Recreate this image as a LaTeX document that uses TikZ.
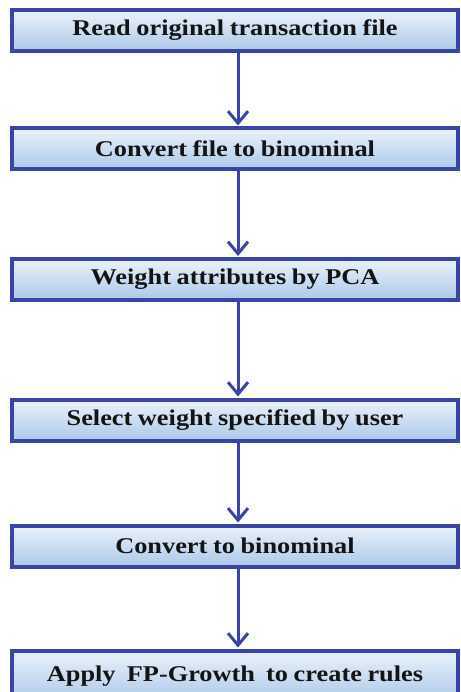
\documentclass[tikz,border=0pt]{standalone}
\usepackage{fontspec}
\setmainfont{Liberation Serif}
\newfontfamily\stepfont[FakeStretch=1.17, WordSpace=0.85]{Liberation Serif}
\usetikzlibrary{arrows.meta,shadows}
\definecolor{frameblue}{HTML}{3A44A6}
\definecolor{filltop}{HTML}{EAF2FB}
\definecolor{fillbot}{HTML}{ACC8E8}
\tikzset{
  stepbox/.style={draw=frameblue, line width=4pt, top color=filltop, bottom color=fillbot,
    minimum width=446pt, minimum height=41pt, inner sep=0pt,
    font=\stepfont\fontsize{22.5}{24}\selectfont\bfseries, text=black!92,
    drop shadow={shadow xshift=-1pt, shadow yshift=-2pt, opacity=0.18, fill=black}},
  flow/.style={draw=frameblue, line width=3pt,
    -{Straight Barb[length=12pt, width=20pt, line width=3pt]}, shorten >=1pt}
}
\begin{document}
\begin{tikzpicture}[x=1pt, y=1pt]
  \useasboundingbox (0,0) rectangle (460,-692);
  \clip (0,0) rectangle (460,-692);
  \node[stepbox] (b1) at (235,-30.5) {Read original transaction file};
  \node[stepbox] (b2) at (235,-149)  {Convert file to binominal};
  \node[stepbox] (b3) at (235,-279.5){Weight attributes by PCA};
  \node[stepbox] (b4) at (235,-420)  {Select weight specified by user};
  \node[stepbox] (b5) at (235,-546)  {Convert to binominal};
  \node[stepbox, minimum height=52pt] (b6) at (235,-676.5) {\raisebox{3.5pt}{Apply\ \ FP-Growth\ \ to create rules}};
  \draw[flow] (b1.south -| 238,0) -- (b2.north -| 238,0);
  \draw[flow] (b2.south -| 238,0) -- (b3.north -| 238,0);
  \draw[flow] (b3.south -| 238,0) -- (b4.north -| 238,0);
  \draw[flow] (b4.south -| 238,0) -- (b5.north -| 238,0);
  \draw[flow] (b5.south -| 238,0) -- (b6.north -| 238,0);
\end{tikzpicture}
\end{document}
